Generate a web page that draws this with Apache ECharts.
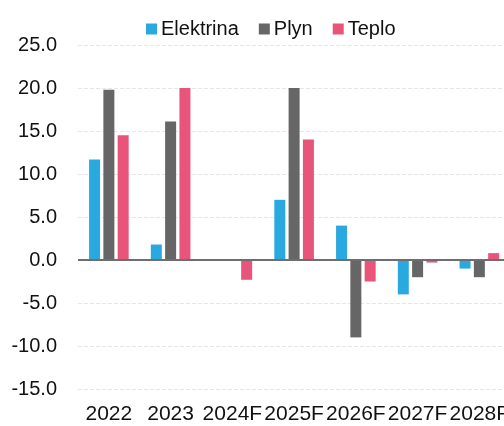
<!DOCTYPE html>
<html>
<head>
<meta charset="utf-8">
<script src="https://cdn.jsdelivr.net/npm/echarts@6.0.0/dist/echarts.min.js"></script>
<style>
  html, body { margin: 0; padding: 0; background: #fff; overflow: hidden; }
  #chart { width: 512px; height: 426px; }
</style>
</head>
<body>
<div id="chart"></div>
<script>
  // Categories and year-on-year values (%)
  const years = ["2022", "2023", "2024F", "2025F", "2026F", "2027F", "2028F"];
  const elektrina = [11.7, 1.8, 0.0, 7.0, 4.0, -4.0, -1.0];
  const plyn = [19.8, 16.1, 0.0, 20.0, -9.0, -2.0, -2.0];
  const teplo = [14.5, 20.0, -2.3, 14.0, -2.5, -0.3, 0.8];

  const FONT = "'Liberation Sans', Arial, Helvetica, sans-serif";
  const INK = "#111111";

  const chart = echarts.init(document.getElementById("chart"), null, { renderer: "canvas" });

  const bar = (name, data, color) => ({
    name, type: "bar", data,
    barWidth: 11, barGap: "30%",
    itemStyle: { color },
  });

  const series = [
    bar("Elektrina", elektrina, "#2aa9e0"),
    bar("Plyn", plyn, "#666666"),
    bar("Teplo", teplo, "#e8547a"),
  ];
  // zero baseline
  series[0].markLine = {
    silent: true, symbol: "none", label: { show: false },
    lineStyle: { color: "#6e6e6e", width: 2, type: "solid" },
    data: [{ yAxis: 0 }],
  };

  chart.setOption({
    animation: false,
    textStyle: { fontFamily: FONT, color: INK },
    legend: {
      top: 14, left: 141,
      icon: "rect", itemWidth: 11, itemHeight: 11, itemGap: 20,
      textStyle: { fontSize: 20, color: INK, fontFamily: FONT, padding: [0, 0, 0, -1] },
      data: ["Elektrina", "Plyn", "Teplo"],
    },
    grid: { left: 78, right: 0, top: 45, bottom: 37 },
    xAxis: {
      type: "category", data: years,
      axisLine: { show: false, onZero: false },
      axisTick: { show: false },
      axisLabel: { color: INK, fontSize: 21, margin: 15, interval: 0, fontFamily: FONT },
    },
    yAxis: {
      type: "value", min: -15, max: 25, interval: 5,
      axisLine: { show: false },
      axisTick: { show: false },
      axisLabel: {
        color: INK, fontSize: 20, margin: 21, fontFamily: FONT,
        formatter: (v) => v.toFixed(1),
      },
      splitLine: { lineStyle: { color: "#e6e6e6", type: "dashed", width: 1 } },
    },
    series,
  });
</script>
</body>
</html>
